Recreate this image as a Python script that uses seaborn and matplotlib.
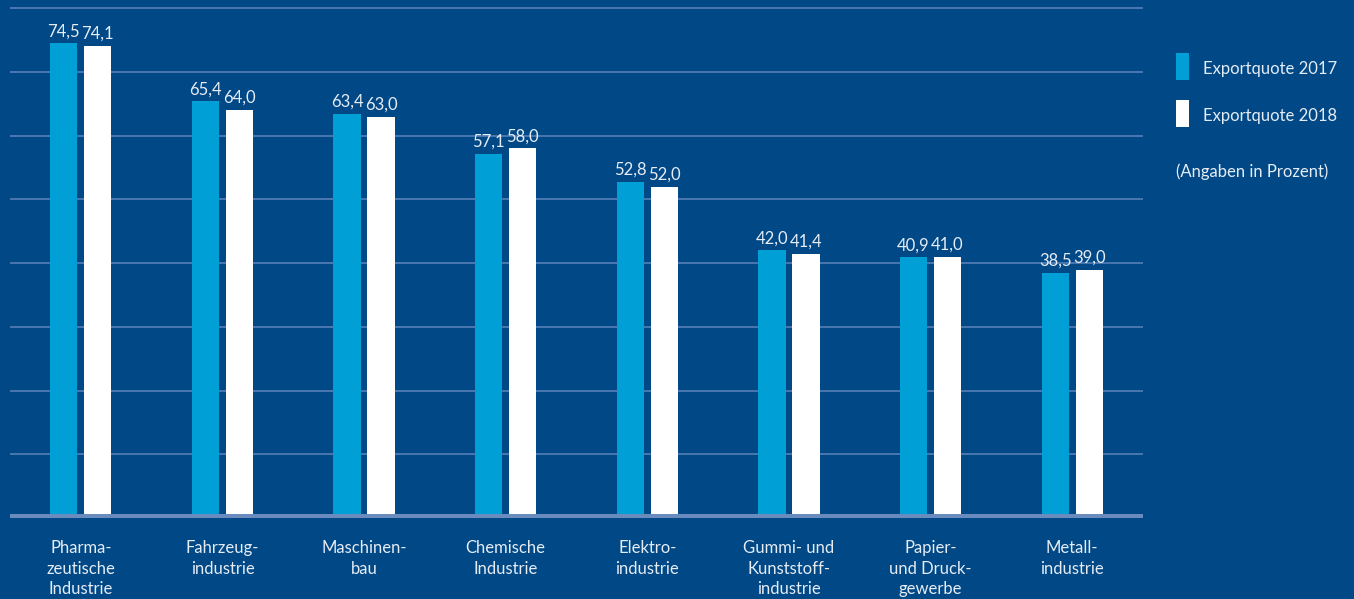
import matplotlib
matplotlib.use("Agg")
import matplotlib.pyplot as plt
from matplotlib.patches import Rectangle
import seaborn as sns
import pandas as pd

categories = ["Pharma-\nzeutische\nIndustrie", "Fahrzeug-\nindustrie", "Maschinen-\nbau",
              "Chemische\nIndustrie", "Elektro-\nindustrie", "Gummi- und\nKunststoff-\nindustrie",
              "Papier-\nund Druck-\ngewerbe", "Metall-\nindustrie"]
series_names = ["Exportquote 2017", "Exportquote 2018"]
values_2017 = [74.5, 65.4, 63.4, 57.1, 52.8, 42.0, 40.9, 38.5]
values_2018 = [74.1, 64.0, 63.0, 58.0, 52.0, 41.4, 41.0, 39.0]
note = "(Angaben in Prozent)"

BG = "#004886"
BLUE = "#009fd6"
WHITE = "#ffffff"
TXT = "#e6ecf4"
GRID = "#5d85bb"
BASE = "#6a8bbd"

df = pd.DataFrame({
    "cat": categories * 2,
    "series": [series_names[0]] * len(categories) + [series_names[1]] * len(categories),
    "value": values_2017 + values_2018,
})

sns.set_theme(style="white")
plt.rcParams["font.family"] = ["Lato", "DejaVu Sans"]

fig = plt.figure(figsize=(13.54, 5.99), dpi=100, facecolor=BG)
ax = fig.add_axes([10 / 1354, (599 - 518) / 599, (1143 - 10) / 1354, 518 / 599])
ax.set_facecolor(BG)

sns.barplot(data=df, x="cat", y="value", hue="series", order=categories,
            hue_order=series_names, palette=[BLUE, WHITE], width=0.48, gap=0.2,
            saturation=1, ax=ax, legend=False, linewidth=0, zorder=2)

for cont in ax.containers:
    labs = [f"{b.get_height():.1f}".replace(".", ",") for b in cont]
    ax.bar_label(cont, labels=labs, padding=3, color=TXT, fontsize=12)

ax.set_ylim(0, 81.3)
ax.set_xlim(-0.5, len(categories) - 0.5)
for y in range(10, 81, 10):
    ax.axhline(y, color=GRID, linewidth=1.1, zorder=1)
ax.axhline(0, color=BASE, linewidth=6.5, zorder=3)

for s in ax.spines.values():
    s.set_visible(False)
ax.set_yticks([])
ax.set_xlabel("")
ax.set_ylabel("")
ax.tick_params(axis="x", length=0, pad=16, colors=TXT, labelsize=12)
for t in ax.get_xticklabels():
    t.set_linespacing(1.33)
    t.set_verticalalignment("top")

# legend
W, H = 1354, 599
for i, (name, col) in enumerate(zip(series_names, [BLUE, WHITE])):
    ytop = 53 + i * 47
    fig.patches.append(Rectangle((1176 / W, 1 - (ytop + 27) / H), 13 / W, 27 / H,
                                 transform=fig.transFigure, facecolor=col, edgecolor="none"))
    fig.text(1203 / W, 1 - (ytop + 16) / H, name, color=TXT, fontsize=12, va="center", ha="left")
fig.text(1176 / W, 1 - 172 / H, note, color=TXT, fontsize=12, va="center", ha="left")

fig.savefig("out.png", dpi=100, facecolor=BG)
